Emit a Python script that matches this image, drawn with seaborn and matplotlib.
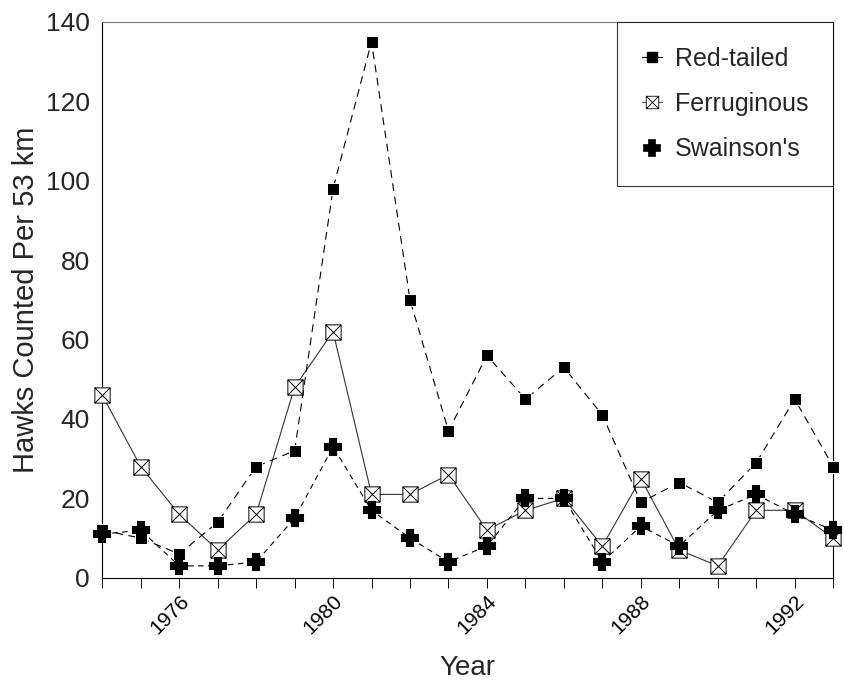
import numpy as np
import pandas as pd
import matplotlib.pyplot as plt
from matplotlib.path import Path
from matplotlib.lines import Line2D
import seaborn as sns

# Data
years = list(range(1974, 1994))
red_tailed = [12, 10, 6, 14, 28, 32, 98, 135, 70, 37, 56, 45, 53, 41, 19, 24, 19, 29, 45, 28]
ferruginous = [46, 28, 16, 7, 16, 48, 62, 21, 21, 26, 12, 17, 20, 8, 25, 7, 3, 17, 17, 10]
swainsons = [11, 12, 3, 3, 4, 15, 33, 17, 10, 4, 8, 20, 20, 4, 13, 8, 17, 21, 16, 12]
species = ["Red-tailed", "Ferruginous", "Swainson's"]
tick_years = [1976, 1980, 1984, 1988, 1992]

df = pd.DataFrame({
    "Year": years * 3,
    "Count": red_tailed + ferruginous + swainsons,
    "Species": [s for s in species for _ in years],
})

sns.set_theme(style="white")
plt.rcParams['font.family'] = ['Liberation Sans', 'DejaVu Sans']

# open square with an X inside
boxx = Path(
    [(-1, -1), (1, -1), (1, 1), (-1, 1), (-1, -1), (-1, -1), (1, 1), (-1, 1), (1, -1)],
    [Path.MOVETO, Path.LINETO, Path.LINETO, Path.LINETO, Path.CLOSEPOLY,
     Path.MOVETO, Path.LINETO, Path.MOVETO, Path.LINETO],
)

fig = plt.figure(figsize=(8.45, 6.83), dpi=100)
ax = fig.add_axes([0.121, 0.154, 0.865, 0.814])

sns.lineplot(
    data=df, x="Year", y="Count", hue="Species", style="Species",
    hue_order=species, style_order=species,
    palette=["black", "black", "black"],
    markers={"Red-tailed": "s", "Ferruginous": boxx, "Swainson's": "P"},
    dashes={"Red-tailed": (7, 5), "Ferruginous": "", "Swainson's": (5, 4)},
    linewidth=0.8, ax=ax, legend=False,
)

# marker styling per series
for line, lab in zip(ax.get_lines(), species):
    line.set_clip_on(False)
    if lab == "Red-tailed":
        line.set_markersize(8)
        line.set_markerfacecolor("black")
        line.set_zorder(4)
    elif lab == "Ferruginous":
        line.set_markersize(11)
        line.set_markerfacecolor("white")
        line.set_markeredgecolor("black")
        line.set_markeredgewidth(0.7)
        line.set_color("#333333")
        line.set_zorder(3)
    else:
        line.set_markersize(11)
        line.set_markerfacecolor("black")
        line.set_markeredgecolor("black")
        line.set_markeredgewidth(1.5)
        line.set_zorder(5)

ax.set_xlim(1974, 1993)
ax.set_ylim(0, 140)
ax.set_yticks(range(0, 141, 20))
ax.set_xticks(tick_years)
ax.set_xticks(years, minor=True)
ax.tick_params(axis="x", which="both", direction="out", length=7, width=0.7,
               colors="black", bottom=True)
ax.tick_params(axis="x", which="major", pad=3)
ax.tick_params(axis="y", length=0, labelsize=19, pad=9)
plt.setp(ax.get_xticklabels(), rotation=45, ha="right", rotation_mode="anchor",
         fontsize=15)
ax.set_xlabel("Year", fontsize=20, labelpad=12)
ax.set_ylabel("Hawks Counted Per 53 km", fontsize=21, labelpad=4)

for side in ["left", "bottom", "right", "top"]:
    ax.spines[side].set_color("black")
    ax.spines[side].set_linewidth(0.8)
ax.spines["top"].set_color("#777777")

# legend
handles = [
    Line2D([], [], color="black", marker="s", markersize=7, linewidth=0.8),
    Line2D([], [], color="#555555", marker=boxx, markersize=9, markerfacecolor="white",
           markeredgecolor="black", markeredgewidth=0.6, linewidth=0.8),
    Line2D([], [], color="black", marker="P", markersize=11, markeredgewidth=1.2,
           linewidth=0),
]
leg = ax.legend(handles, species, loc="upper right", bbox_to_anchor=(1.0, 1.0),
                frameon=True, fancybox=False, edgecolor="black", fontsize=18,
                handlelength=0.8, labelspacing=0.85, borderpad=1.0, handletextpad=0.5,
                borderaxespad=0)
leg.get_frame().set_linewidth(0.8)

fig.savefig("out.png", dpi=100)
